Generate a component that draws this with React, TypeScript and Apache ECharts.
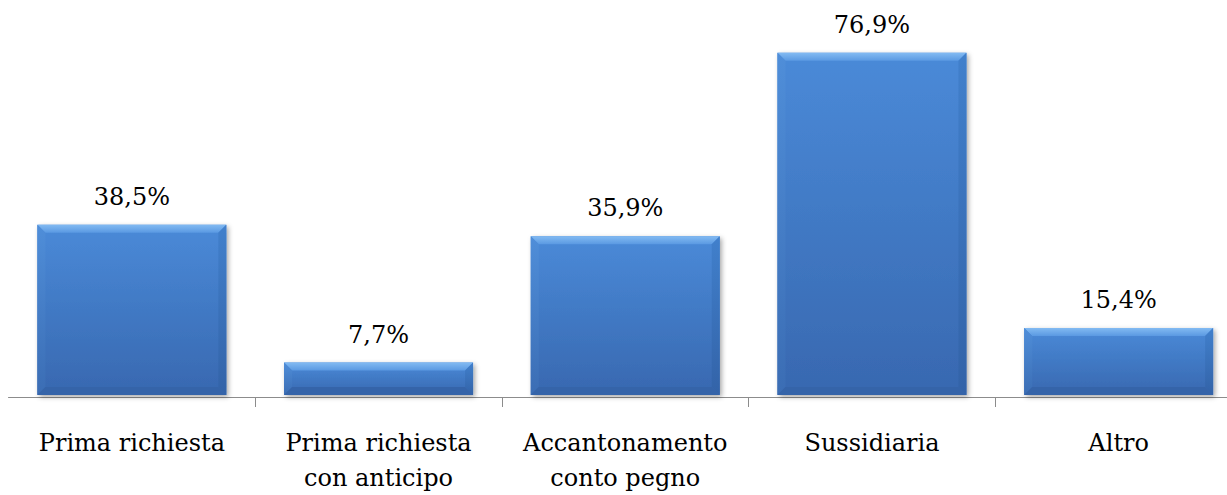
import React, { useEffect, useRef } from "react";
import * as echarts from "echarts";

const categories = [
  "Prima richiesta",
  "Prima richiesta\ncon anticipo",
  "Accantonamento\nconto pegno",
  "Sussidiaria",
  "Altro",
];
const values = [38.5, 7.7, 35.9, 76.9, 15.4];

const FONT = "'DejaVu Serif', 'Liberation Serif', serif";

export default function App() {
  const ref = useRef<HTMLDivElement>(null);
  useEffect(() => {
    if (!ref.current) return;
    const chart = echarts.init(ref.current, undefined, { renderer: "svg" });
    const fmt = (v: number) => v.toFixed(1).replace(".", ",") + "%";
    chart.setOption({
      animation: false,
      backgroundColor: "#ffffff",
      grid: { left: 8.5, right: 0, top: 39, bottom: 97, containLabel: false },
      xAxis: {
        type: "category",
        data: categories,
        boundaryGap: true,
        axisLine: { show: true, lineStyle: { color: "#8c8c8c", width: 1 } },
        axisTick: {
          show: true,
          length: 10,
          interval: (index: number) => index !== 0,
          lineStyle: { color: "#8c8c8c" },
        },
        axisLabel: {
          margin: 28,
          fontFamily: FONT,
          fontSize: 24,
          color: "#000",
          lineHeight: 35,
          interval: 0,
        },
      },
      yAxis: {
        type: "value",
        min: 0,
        max: 80,
        show: false,
        splitLine: { show: false },
      },
      series: [
        {
          type: "custom",
          data: values.map((v, i) => [i, v]),
          renderItem: (params: any, api: any) => {
            const idx = api.value(0);
            const v = api.value(1);
            const top = api.coord([idx, v]);
            const base = api.coord([idx, 0]);
            const w = api.size([1, 0])[0] * 0.766;
            const x0 = top[0] - w / 2;
            const x1 = x0 + w;
            const y0 = top[1];
            const y1 = base[1] - 2;
            const h = y1 - y0;
            const b = 8;
            return {
              type: "group",
              children: [
                {
                  type: "rect",
                  shape: { x: x0, y: y0, width: w, height: h },
                  style: {
                    fill: new echarts.graphic.LinearGradient(0, 0, 0, 1, [
                      { offset: 0, color: "#4a8ad8" },
                      { offset: 1, color: "#3868b0" },
                    ]),
                    shadowBlur: 5,
                    shadowOffsetX: 2,
                    shadowOffsetY: 2,
                    shadowColor: "rgba(0,0,0,0.35)",
                  },
                },
                {
                  type: "polygon",
                  shape: { points: [[x0, y0], [x1, y0], [x1 - b, y0 + b], [x0 + b, y0 + b]] },
                  style: {
                    fill: new echarts.graphic.LinearGradient(0, 0, 0, 1, [
                      { offset: 0, color: "#82baf2" },
                      { offset: 1, color: "#5a99e2" },
                    ]),
                  },
                },
                {
                  type: "polygon",
                  shape: { points: [[x0, y0], [x0 + b, y0 + b], [x0 + b, y1 - b], [x0, y1]] },
                  style: {
                    fill: new echarts.graphic.LinearGradient(0, 0, 0, 1, [
                      { offset: 0, color: "#4f8ed9" },
                      { offset: 1, color: "#3b6db4" },
                    ]),
                  },
                },
                {
                  type: "polygon",
                  shape: { points: [[x1, y0], [x1, y1], [x1 - b, y1 - b], [x1 - b, y0 + b]] },
                  style: {
                    fill: new echarts.graphic.LinearGradient(0, 0, 0, 1, [
                      { offset: 0, color: "#4180cc" },
                      { offset: 1, color: "#3363a8" },
                    ]),
                  },
                },
                {
                  type: "polygon",
                  shape: { points: [[x0, y1], [x0 + b, y1 - b], [x1 - b, y1 - b], [x1, y1]] },
                  style: { fill: "#3564a9" },
                },
                {
                  type: "text",
                  style: {
                    x: top[0],
                    y: y0 - 16,
                    text: fmt(v),
                    textAlign: "center",
                    textVerticalAlign: "bottom",
                    fontFamily: FONT,
                    fontSize: 24,
                    fill: "#000",
                  },
                },
              ],
            };
          },
        },
      ],
    });
    return () => chart.dispose();
  }, []);
  return (
    <div
      ref={ref}
      style={{ position: "fixed", left: 0, top: 0, width: 1242, height: 495, background: "#fff" }}
    />
  );
}
